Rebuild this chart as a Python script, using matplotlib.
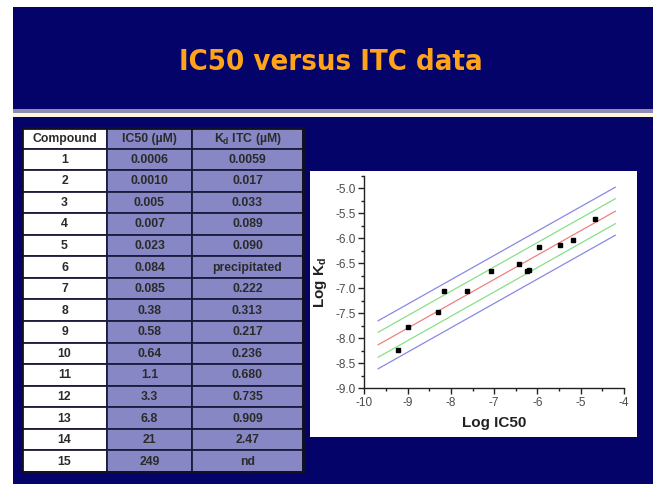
import numpy as np
import matplotlib
matplotlib.use("Agg")
import matplotlib.pyplot as plt
from matplotlib.patches import Rectangle
from matplotlib.ticker import MultipleLocator

plt.rcParams['font.family'] = ['Liberation Sans', 'DejaVu Sans']
plt.rcParams['mathtext.fontset'] = 'custom'
plt.rcParams['mathtext.rm'] = 'Liberation Sans'
plt.rcParams['mathtext.bf'] = 'Liberation Sans:bold'

# ---- data ----
title = "IC50 versus ITC data"
headers = ["Compound", "IC50 (\u00b5M)", "K$_\\mathregular{d}$ ITC (\u00b5M)"]
compounds = ["1", "2", "3", "4", "5", "6", "7", "8", "9", "10", "11", "12", "13", "14", "15"]
ic50_txt = ["0.0006", "0.0010", "0.005", "0.007", "0.023", "0.084", "0.085", "0.38",
            "0.58", "0.64", "1.1", "3.3", "6.8", "21", "249"]
kd_txt = ["0.0059", "0.017", "0.033", "0.089", "0.090", "precipitated", "0.222", "0.313",
          "0.217", "0.236", "0.680", "0.735", "0.909", "2.47", "nd"]
band_inner = 0.25   # green lines, log units around fit
band_outer = 0.48   # blue lines
x_ticks = [-10, -9, -8, -7, -6, -5, -4]
y_ticks = [-9.0, -8.5, -8.0, -7.5, -7.0, -6.5, -6.0, -5.5, -5.0]

# plotted points: compounds with numeric IC50 and Kd (log10 of molar values)
pts = [(float(a), float(b)) for a, b in zip(ic50_txt, kd_txt)
       if b.replace('.', '').isdigit()]
log_ic50 = np.log10(np.array([p[0] for p in pts]) * 1e-6)
log_kd = np.log10(np.array([p[1] for p in pts]) * 1e-6)

# ---- figure ----
W, H = 653, 484
navy = "#03036a"
fig = plt.figure(figsize=(W / 100, H / 100), dpi=100)
fig.patch.set_facecolor("white")

bg = fig.add_axes([0, 0, 1, 1])
bg.set_xlim(0, W)
bg.set_ylim(H, 0)
bg.axis("off")

# slide background
bg.add_patch(Rectangle((13, 7), W - 13, H - 7, facecolor=navy, edgecolor="none"))
# separator lines
bg.add_patch(Rectangle((13, 109), W - 13, 3.5, facecolor="#8c8cb4", edgecolor="none"))
bg.add_patch(Rectangle((13, 112.5), W - 13, 4.5, facecolor="#fff8d8", edgecolor="none"))
# title
bg.text(331, 62, title, color="#ffa31a", fontsize=21, fontweight="bold",
        family=["DejaVu Sans"], fontstretch="condensed", ha="center", va="center")

# table
col_x = [22, 107, 192, 303]
top, head_h = 128, 20.5
row_h = (472 - top - head_h) / len(compounds)
lav = "#8787c6"
border = "#1b1b3c"
rows = [headers] + [list(r) for r in zip(compounds, ic50_txt, kd_txt)]
for i, row in enumerate(rows):
    y0 = top if i == 0 else top + head_h + (i - 1) * row_h
    h = head_h if i == 0 else row_h
    for j, txt in enumerate(row):
        fc = "white" if j == 0 else lav
        bg.add_patch(Rectangle((col_x[j], y0), col_x[j + 1] - col_x[j], h,
                               facecolor=fc, edgecolor=border, linewidth=1.3))
        bg.text((col_x[j] + col_x[j + 1]) / 2, y0 + h / 2 + 0.5, txt, color="#2a2a2a",
                fontsize=8.8, fontweight="bold", ha="center", va="center")
bg.add_patch(Rectangle((col_x[0], top), col_x[-1] - col_x[0], 472 - top,
                       facecolor="none", edgecolor="#101020", linewidth=2))

# plot panel
bg.add_patch(Rectangle((310, 171), 327, 266, facecolor="white", edgecolor="none"))

ax = fig.add_axes([364.3 / W, 1 - 388.3 / H, (624 - 364.3) / W, (388.3 - 175.8) / H])
ax.set_facecolor("white")
ax.set_xlim(-10, -4)
ax.set_ylim(-9, -4.75)
for s in ["top", "right"]:
    ax.spines[s].set_visible(False)
for s in ["left", "bottom"]:
    ax.spines[s].set_color("#222222")
    ax.spines[s].set_linewidth(1.0)

slope, icpt = np.polyfit(log_ic50, log_kd, 1)
xl = np.array([-9.68, -4.2])
yl = slope * xl + icpt
ax.plot(xl, yl + band_outer, color="#8888e8", lw=0.9)
ax.plot(xl, yl - band_outer, color="#8888e8", lw=0.9)
ax.plot(xl, yl + band_inner, color="#88e088", lw=0.9)
ax.plot(xl, yl - band_inner, color="#88e088", lw=0.9)
ax.plot(xl, yl, color="#f08080", lw=0.9)
ax.plot(log_ic50, log_kd, "s", color="black", ms=3)

ax.set_xticks(x_ticks)
ax.set_xticklabels([str(t) for t in x_ticks])
ax.set_yticks(y_ticks)
ax.set_yticklabels([f"{t:.1f}" for t in y_ticks])
ax.xaxis.set_minor_locator(MultipleLocator(0.5))
ax.yaxis.set_minor_locator(MultipleLocator(0.25))
ax.tick_params(which="both", direction="out", color="#222222", width=1.0)
ax.tick_params(which="major", length=4, labelsize=8.5, labelcolor="#4a4a4a", pad=2)
ax.tick_params(which="minor", length=2.5)

ax.set_xlabel("Log IC50", fontsize=11, fontweight="bold", color="#222222", labelpad=5)
ax.set_ylabel(r"Log K$_\mathbf{d}$", fontsize=11, fontweight="bold", color="#222222", labelpad=5)

fig.savefig("out.png", dpi=100, facecolor=fig.get_facecolor())
